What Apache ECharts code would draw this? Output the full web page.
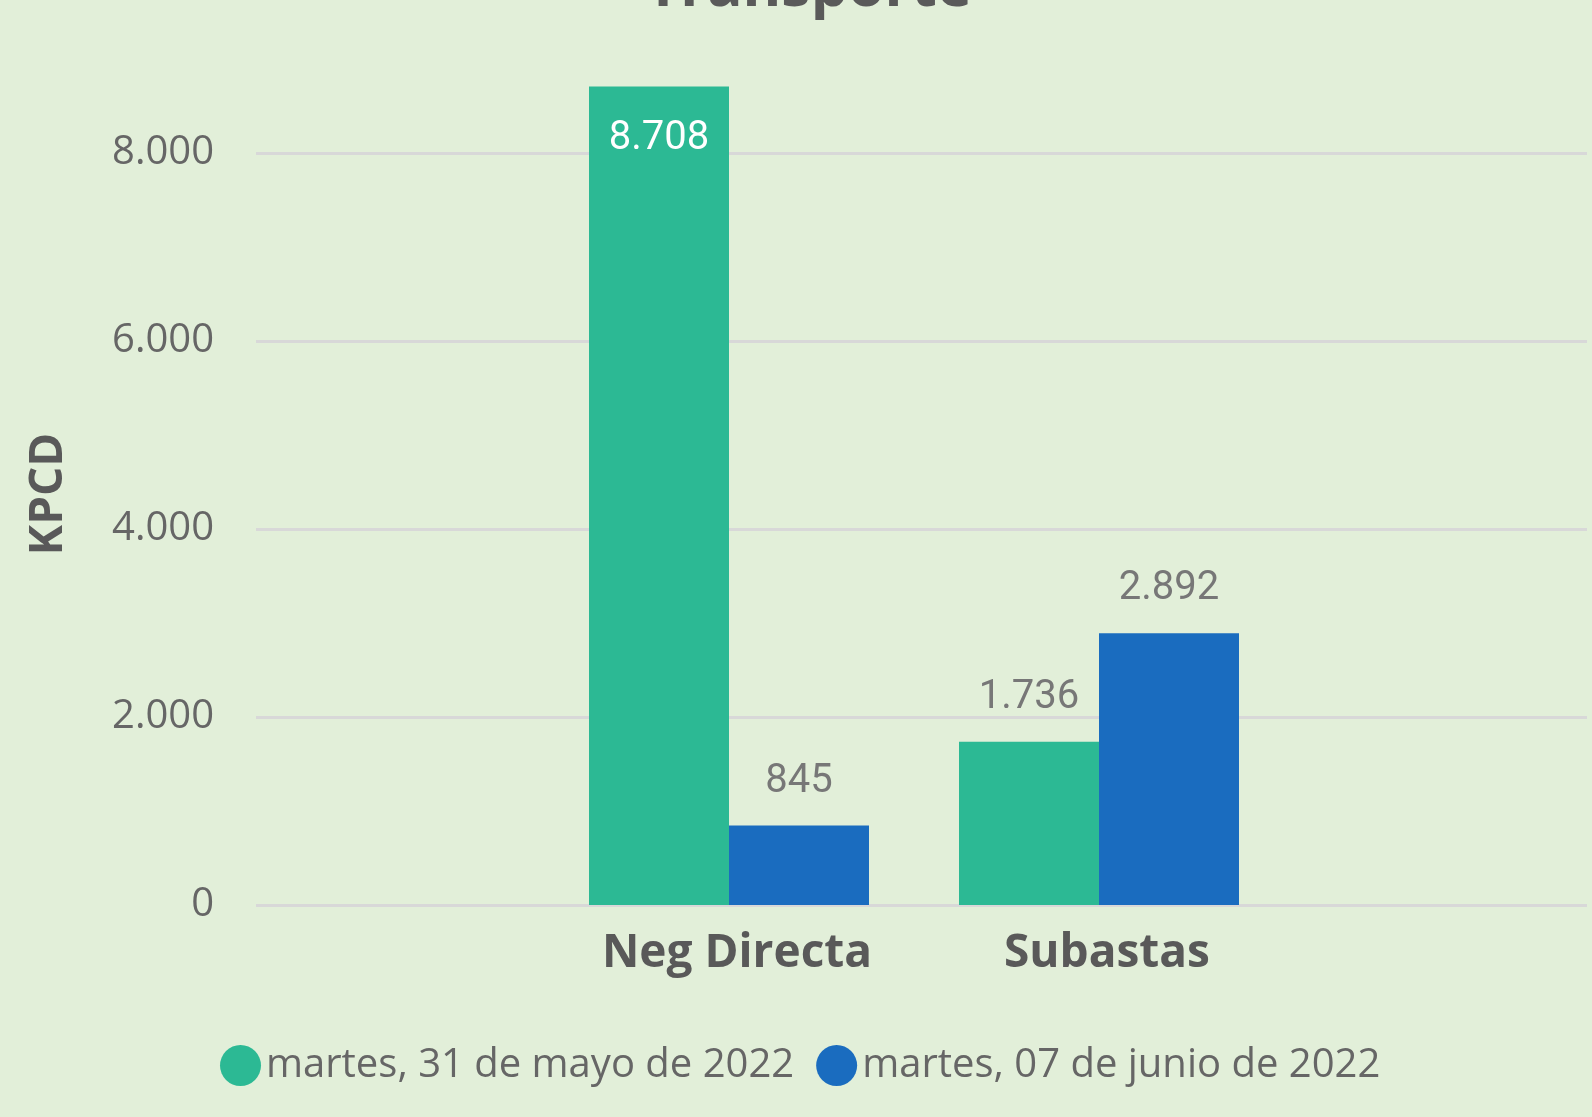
<!DOCTYPE html>
<html>
<head>
<meta charset="utf-8">
<script src="https://cdn.jsdelivr.net/npm/echarts@6/dist/echarts.min.js"></script>
<style>
  html, body { margin: 0; padding: 0; background: #E2EFD9; }
  #chart { width: 1592px; height: 1117px; }
</style>
</head>
<body>
<div id="chart"></div>
<script>
// datos
var categorias = ['Neg Directa', 'Subastas'];
var series_nombres = ['martes, 31 de mayo de 2022', 'martes, 07 de junio de 2022'];
var valores_mayo31 = [8708, 1736];
var valores_junio07 = [845, 2892];
var colores = ['#2CB994', '#1A6CBF'];

function $$(element) {
    return document.getElementById(element);
}

function fmt(v) {
    // separador de miles con punto
    return String(v).replace(/\B(?=(\d{3})+(?!\d))/g, '.');
}

var myChart = echarts.init($$('chart'));

var option = {
    backgroundColor: '#E2EFD9',
    title: {
        text: 'Transporte',
        left: 641,
        top: -45,
        textStyle: {
            fontFamily: 'Open Sans',
            fontWeight: 'bold',
            fontSize: 59,
            color: '#5A5A5A'
        }
    },
    legend: {
        data: series_nombres,
        left: 215,
        top: 1040,
        icon: 'circle',
        itemWidth: 41,
        itemHeight: 41,
        itemGap: 22,
        textStyle: {
            fontFamily: 'Open Sans',
            fontSize: 40,
            color: '#666666'
        }
    },
    grid: [
        { left: 256, right: 5, top: 153, bottom: 212 },
        { left: 544, right: 308, top: 153, bottom: 212 }
    ],
    xAxis: [
        { gridIndex: 0, type: 'value', show: false, min: 0, max: 1 },
        {
            gridIndex: 1,
            type: 'category',
            data: categorias,
            axisLine: { show: false },
            axisTick: { show: false },
            axisLabel: {
                margin: 26,
                padding: [0, 0, 0, 16],
                fontFamily: 'Open Sans',
                fontWeight: 'bold',
                fontSize: 46,
                color: '#595959'
            }
        }
    ],
    yAxis: [
        {
            gridIndex: 0,
            type: 'value',
            min: 0,
            max: 8000,
            interval: 2000,
            name: 'KPCD',
            nameLocation: 'middle',
            nameGap: 184,
            nameTextStyle: {
                fontFamily: 'Open Sans',
                fontWeight: 'bold',
                fontSize: 46,
                color: '#595959',
                padding: [0, 0, 0, 70]
            },
            axisLine: { show: false },
            axisTick: { show: false },
            axisLabel: {
                margin: 42,
                padding: [12, 0, 0, 0],
                fontFamily: 'Open Sans',
                fontSize: 40,
                color: '#666666',
                formatter: function (v) { return fmt(v); }
            },
            splitLine: { lineStyle: { color: '#D8D8D8', width: 3 } }
        },
        { gridIndex: 1, type: 'value', min: 0, max: 8000, show: false, splitLine: { show: false } }
    ],
    series: [
        {
            name: series_nombres[0],
            type: 'bar',
            xAxisIndex: 1,
            yAxisIndex: 1,
            barWidth: 140,
            barGap: '0%',
            clip: false,
            itemStyle: { color: colores[0] },
            data: valores_mayo31.map(function (v, i) {
                var inside = v > 8000;
                return {
                    value: v,
                    label: inside
                        ? { position: 'insideTop', distance: 33, color: '#FFFFFF' }
                        : { position: 'top', distance: 24, color: '#777777' }
                };
            }),
            label: {
                show: true,
                fontFamily: 'Roboto',
                fontSize: 40,
                formatter: function (p) { return fmt(p.value); }
            }
        },
        {
            name: series_nombres[1],
            type: 'bar',
            xAxisIndex: 1,
            yAxisIndex: 1,
            barWidth: 140,
            barGap: '0%',
            clip: false,
            itemStyle: { color: colores[1] },
            data: valores_junio07,
            label: {
                show: true,
                position: 'top',
                distance: 24,
                fontFamily: 'Roboto',
                fontSize: 40,
                color: '#777777',
                formatter: function (p) { return fmt(p.value); }
            }
        }
    ]
};
myChart.setOption(option);
</script>
</body>
</html>
